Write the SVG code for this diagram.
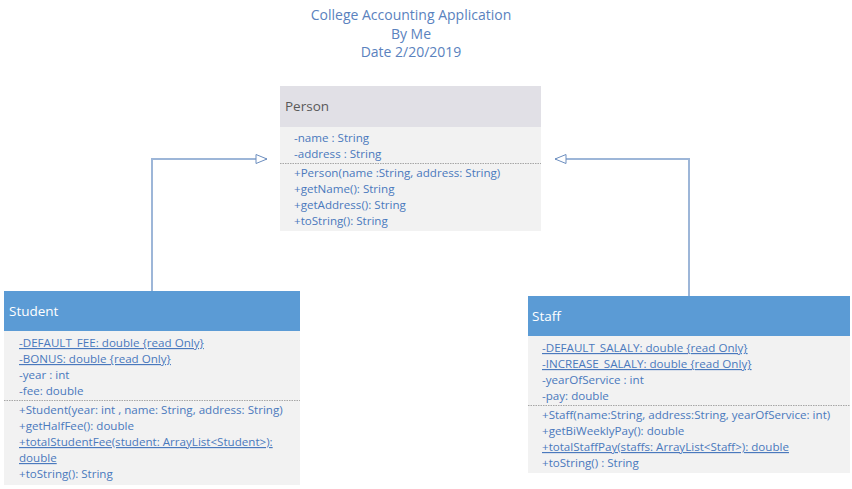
<svg xmlns="http://www.w3.org/2000/svg" width="852" height="489" viewBox="0 0 852 489">
<style>
.t{font-family:"Open Sans","Noto Sans",sans-serif;fill:#5A82BE;font-size:14px}
.m{font-family:"Open Sans","Noto Sans",sans-serif;fill:#4A79BD;font-size:11.6px}
.u{text-decoration:underline}
.h{font-family:"Open Sans","Noto Sans",sans-serif;font-size:13.5px}
.body{fill:#F2F2F2}
.sep{stroke:#A6A6A6;stroke-width:1;stroke-dasharray:1.5 1}
.conn{fill:none;stroke:#9DB6D8;stroke-width:2}
</style>
<defs>
<marker id="tri" markerWidth="14" markerHeight="12" refX="12" refY="6" orient="auto" markerUnits="userSpaceOnUse">
<path d="M1,1.5 L12,6 L1,10.5 Z" fill="#fff" stroke="#6C8EBF" stroke-width="1"/>
</marker>
</defs>
<g id="title">
<text class="t" x="411" y="20" text-anchor="middle">College Accounting Application</text>
<text class="t" x="411" y="39" text-anchor="middle">By Me</text>
<text class="t" x="411" y="57" text-anchor="middle">Date 2/20/2019</text>
</g>
<g id="connectors">
<path class="conn" d="M152,291 V159 H267" marker-end="url(#tri)"/>
<path class="conn" d="M689,296 V159 H555" marker-end="url(#tri)"/>
</g>
<g id="Person">
<rect x="280" y="86" width="261" height="41" fill="#E1E0E6"/>
<rect class="body" x="280" y="127" width="261" height="104"/>
<text class="h" x="285" y="111" fill="#595959">Person</text>
<text class="m" x="294" y="142">-name : String</text>
<text class="m" x="294" y="158">-address : String</text>
<line class="sep" x1="280" y1="163.5" x2="541" y2="163.5"/>
<text class="m" x="294" y="177">+Person(name :String, address: String)</text>
<text class="m" x="294" y="193">+getName(): String</text>
<text class="m" x="294" y="209">+getAddress(): String</text>
<text class="m" x="294" y="225">+toString(): String</text>
</g>
<g id="Student">
<rect x="4" y="291" width="296" height="40" fill="#5B9BD5"/>
<rect class="body" x="4" y="331" width="296" height="154"/>
<text class="h" x="9" y="316" fill="#fff">Student</text>
<text class="m u" x="19" y="347">-DEFAULT_FEE: double {read Only}</text>
<text class="m u" x="19" y="363">-BONUS: double {read Only}</text>
<text class="m" x="19" y="379">-year : int</text>
<text class="m" x="19" y="395">-fee: double</text>
<line class="sep" x1="4" y1="400.5" x2="300" y2="400.5"/>
<text class="m" x="19" y="414">+Student(year: int , name: String, address: String)</text>
<text class="m" x="19" y="430">+getHalfFee(): double</text>
<text class="m u" x="19" y="446">+totalStudentFee(student: ArrayList&lt;Student&gt;):</text>
<text class="m u" x="19" y="462">double</text>
<text class="m" x="19" y="478">+toString(): String</text>
</g>
<g id="Staff">
<rect x="528" y="296" width="322" height="40" fill="#5B9BD5"/>
<rect class="body" x="528" y="336" width="322" height="137"/>
<text class="h" x="532" y="321" fill="#fff">Staff</text>
<text class="m u" x="542" y="352">-DEFAULT_SALALY: double {read Only}</text>
<text class="m u" x="542" y="368">-INCREASE_SALALY: double {read Only}</text>
<text class="m" x="542" y="384">-yearOfService : int</text>
<text class="m" x="542" y="400">-pay: double</text>
<line class="sep" x1="528" y1="405.5" x2="850" y2="405.5"/>
<text class="m" x="542" y="419">+Staff(name:String, address:String, yearOfService: int)</text>
<text class="m" x="542" y="435">+getBiWeeklyPay(): double</text>
<text class="m u" x="542" y="451">+totalStaffPay(staffs: ArrayList&lt;Staff&gt;): double</text>
<text class="m" x="542" y="467">+toString() : String</text>
</g>
</svg>
